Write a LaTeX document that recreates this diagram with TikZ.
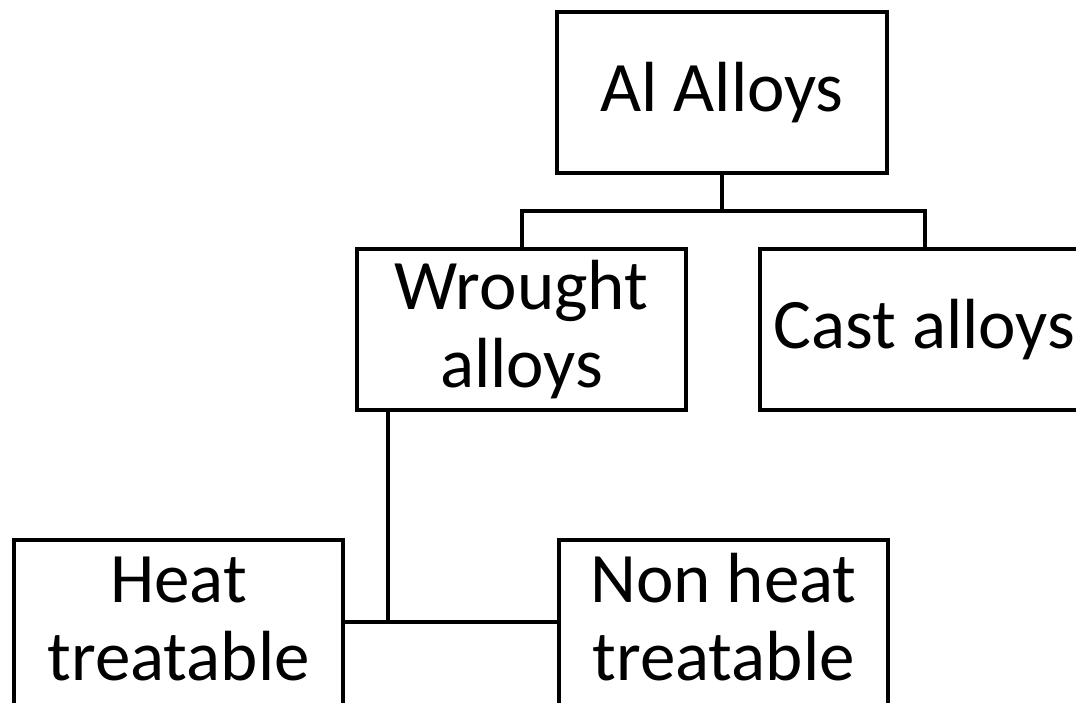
\documentclass[tikz,border=0pt]{standalone}
\usepackage{fontspec}
\setmainfont{Carlito}
\begin{document}
\begin{tikzpicture}[x=1pt,y=-1pt,
  box/.style={draw=black, line width=4pt, rectangle, inner sep=0pt,
    minimum width=329pt, minimum height=161pt, text depth=0pt,
    font=\fontsize{71}{78}\selectfont},
  link/.style={draw=black, line width=4pt}]
\useasboundingbox (0,0) rectangle (1076,703);
\node[box, minimum width=330pt, text height=39pt] (al) at (722,92.5) {Al Alloys};
\node[box, text height=115pt] (wro) at (521.5,329.5)
  {\begin{tabular}[b]{@{}c@{}}Wrought\\alloys\end{tabular}};
\node[box, text height=37pt] (cast) at (924.5,329.5) {Cast alloys};
\node[box, minimum height=180pt, text height=100pt] (heat) at (178.5,630)
  {\begin{tabular}[b]{@{}c@{}}Heat\\treatable\end{tabular}};
\node[box, minimum height=180pt, text height=100pt] (nonh) at (723.5,630)
  {\begin{tabular}[b]{@{}c@{}}Non heat\\treatable\end{tabular}};
\coordinate (t) at (722,211);
\coordinate (j) at (388,622);
\draw[link] (al.south) -- (t);
\draw[link] (wro.north) |- (t) -| (cast.north);
\draw[link] (j |- wro.south) -- (j);
\draw[link] (heat.east |- j) -- (nonh.west |- j);
\end{tikzpicture}
\end{document}
